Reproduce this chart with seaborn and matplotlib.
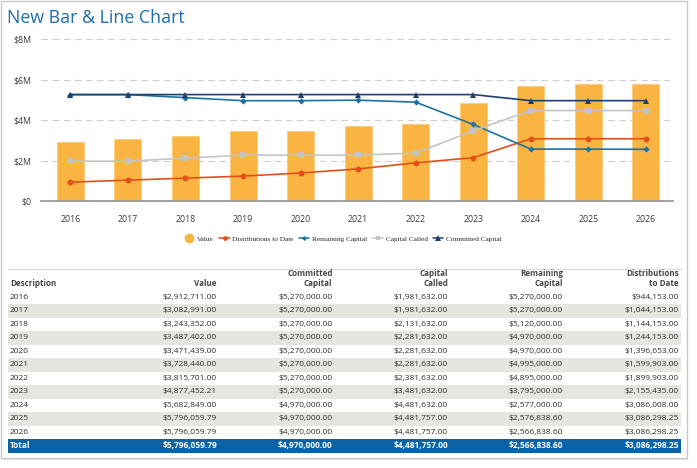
import matplotlib
matplotlib.use('Agg')
from matplotlib import pyplot as plt
from matplotlib.lines import Line2D
from matplotlib.patches import Rectangle
import numpy as np
import pandas as pd
import seaborn as sns

# data
years = [2016, 2017, 2018, 2019, 2020, 2021, 2022, 2023, 2024, 2025, 2026]
value = [2912711.00, 3082991.00, 3243352.00, 3487402.00, 3471439.00, 3728440.00,
         3815701.00, 4877452.21, 5682849.00, 5796059.79, 5796059.79]
committed = [5270000.00, 5270000.00, 5270000.00, 5270000.00, 5270000.00, 5270000.00,
             5270000.00, 5270000.00, 4970000.00, 4970000.00, 4970000.00]
called = [1981632.00, 1981632.00, 2131632.00, 2281632.00, 2281632.00, 2281632.00,
          2381632.00, 3481632.00, 4481632.00, 4481757.00, 4481757.00]
remaining = [5270000.00, 5270000.00, 5120000.00, 4970000.00, 4970000.00, 4995000.00,
             4895000.00, 3795000.00, 2577000.00, 2576838.60, 2566838.60]
distributions = [944153.00, 1044153.00, 1144153.00, 1244153.00, 1396653.00, 1599903.00,
                 1899903.00, 2155435.00, 3086008.00, 3086298.25, 3086298.25]
totals = [5796059.79, 4970000.00, 4481757.00, 2566838.60, 3086298.25]

yticks = [0, 2e6, 4e6, 6e6, 8e6]
ytick_labels = ['$0', '$2M', '$4M', '$6M', '$8M']

headers = ['Description', 'Value', 'Committed\nCapital', 'Capital\nCalled',
           'Remaining\nCapital', 'Distributions\nto Date']

# **************************************************************************

sns.set_theme(style='white')
plt.rcParams['font.family'] = ['Open Sans', 'DejaVu Sans']

W, H = 697, 468
fig = plt.figure(figsize=(W / 100, H / 100), dpi=100)

df = pd.DataFrame({'Year': years, 'Value': value, 'Committed Capital': committed,
                   'Capital Called': called, 'Remaining Capital': remaining,
                   'Distributions to Date': distributions})

# chart area in pixel coords
ax = fig.add_axes([41 / W, 1 - 201.3 / H, (673 - 41) / W, (201.3 - 39.3) / H])

sns.barplot(data=df, x='Year', y='Value', native_scale=True, width=0.47,
            color='#FAB441', saturation=1, edgecolor='#FCCB7A', linewidth=0.6,
            ax=ax, zorder=2)

line_styles = [
    ('Distributions to Date', '#E2501A', 'o', 4.3),
    ('Remaining Capital', '#1B73A4', 'D', 3.2),
    ('Capital Called', '#C4C4C4', 's', 4.3),
    ('Committed Capital', '#1D3F70', '^', 4.6),
]
for col, c, m, ms in line_styles:
    sns.lineplot(data=df, x='Year', y=col, color=c, marker=m, markersize=ms,
                 markeredgewidth=0, linewidth=1.2, ax=ax, zorder=3)

ax.set_xlim(years[0] - 0.51, years[0] + 10.47)
ax.set_ylim(0, 8e6)
ax.set_yticks(yticks)
ax.set_yticklabels(ytick_labels)
ax.set_xticks(years)
ax.set_xticklabels([str(y) for y in years])
ax.tick_params(axis='both', length=0, labelsize=6.3, colors='#3A3A3A')
ax.tick_params(axis='x', pad=10)
ax.tick_params(axis='y', pad=7)
ax.set_xlabel('')
ax.set_ylabel('')
for y in yticks[1:]:
    ax.axhline(y, color='#CFCFCF', linewidth=0.8, linestyle=(0, (6, 4)), zorder=1)
for s in ['top', 'right', 'left']:
    ax.spines[s].set_visible(False)
ax.spines['bottom'].set_color('#9A9A9A')
ax.spines['bottom'].set_linewidth(1.3)
ax.spines['bottom'].set_zorder(4)

handles = [Line2D([], [], color='#FAB441', marker='o', markersize=6, linestyle='none')]
for col, c, m, ms in line_styles:
    handles.append(Line2D([], [], color=c, marker=m, markersize=ms * 0.8,
                          markeredgewidth=0, linewidth=1.1))
labels = ['Value'] + [s[0] for s in line_styles]
fig.legend(handles, labels, loc='center', bbox_to_anchor=(343 / W, 1 - 239 / H),
           ncol=5, frameon=False, handlelength=1.4, handletextpad=0.35,
           columnspacing=0.8, prop={'family': 'Liberation Serif', 'size': 5.2})

fig.text(7 / W, 1 - 18 / H, 'New Bar & Line Chart', fontsize=12.8, color='#1D6CB0',
         va='center', ha='left')

# **************************************************************************
# table below the chart, drawn on an overlay axes in pixel coords

tx = fig.add_axes([0, 0, 1, 1], zorder=-1)
tx.set_xlim(0, W)
tx.set_ylim(H, 0)
tx.axis('off')

# frame round the whole panel, with a soft shadow
tx.add_patch(Rectangle((3, 3), 685, 457, facecolor='#E4E4E4', edgecolor='none'))
tx.add_patch(Rectangle((0.5, 0.5), 686, 457.5, facecolor='white', edgecolor='#C8C8C8',
                       linewidth=1.0))

left, right = 8, 681
col_x = [10, 217, 332.5, 448, 563, 679]
row_h = 13.5
first_row = 297.3

tx.plot([left, right], [269, 269], color='#DDDDDD', linewidth=1.0)

for j, h in enumerate(headers):
    ha = 'left' if j == 0 else 'right'
    tx.text(col_x[j], 288, h, ha=ha, va='bottom', fontsize=5.8, fontweight='bold',
            color='#444444', linespacing=1.1)


def money(v):
    return '${:,.2f}'.format(v)


for i, yr in enumerate(years):
    yc = first_row + i * row_h
    if i % 2 == 1:
        tx.add_patch(Rectangle((left, yc - row_h / 2), right - left, row_h,
                               facecolor='#E6E6E1', edgecolor='none'))
    vals = [value[i], committed[i], called[i], remaining[i], distributions[i]]
    tx.text(col_x[0], yc, str(yr), ha='left', va='center', fontsize=6,
            color='#2E2E2E')
    for j, v in enumerate(vals):
        tx.text(col_x[j + 1], yc, money(v), ha='right', va='center', fontsize=6,
                color='#2E2E2E')

yc = first_row + len(years) * row_h
tx.add_patch(Rectangle((left, yc - row_h / 2), right - left, row_h,
                       facecolor='#0B63A6', edgecolor='none'))
tx.text(col_x[0], yc, 'Total', ha='left', va='center', fontsize=6, color='white',
        fontweight='bold')
for j, v in enumerate(totals):
    tx.text(col_x[j + 1], yc, money(v), ha='right', va='center', fontsize=6,
            color='white', fontweight='bold')

fig.savefig('out.png', dpi=100)
